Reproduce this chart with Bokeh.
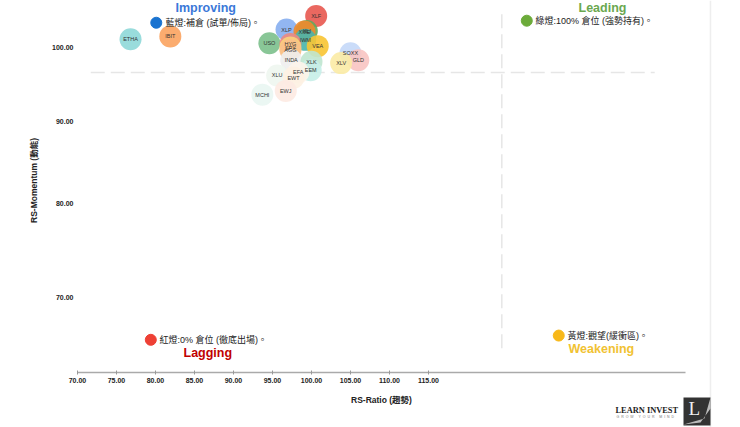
from bokeh.core.properties import value
from bokeh.embed import file_html
from bokeh.models import BoxAnnotation, ColumnDataSource, FixedTicker, Label, PolyAnnotation, PrintfTickFormatter, Range1d
from bokeh.plotting import figure
from bokeh.resources import INLINE

tickers = ['ETHA', 'IBIT', 'USO', 'XLF', 'XLP', 'XLI', 'XME', 'IWM', 'VEA', 'HYG', 'SPY', 'AGG',
           'INDA', 'XLK', 'EEM', 'SOXX', 'GLD', 'XLV', 'XLU', 'EFA', 'EWT', 'MCHI', 'EWJ']
rs_ratio = [76.8, 81.9, 94.6, 100.6, 96.8, 99.4, 99.1, 99.2, 100.8, 97.3, 97.3, 97.3,
            97.4, 100.0, 99.9, 105.0, 106.0, 103.8, 95.6, 98.3, 97.7, 93.7, 96.7]
rs_momentum = [101.2, 101.6, 100.6, 104.6, 102.6, 102.4, 102.3, 101.1, 100.2, 100.5, 100.0, 99.6,
               98.2, 98.0, 96.8, 99.2, 98.2, 97.8, 96.1, 96.5, 95.8, 93.5, 94.0]
colors = ['#8ed8d8', '#fba35f', '#7cc08c', '#e8584f', '#86aef0', '#63a85c', '#f08a2c', '#49b5ac',
          '#f8c433', '#ec8a80', '#f9d37a', '#f9c08a',
          '#eeeeee', '#bfe6cf', '#c6eee8', '#c4d8f8', '#f8c4c2', '#fbeba5', '#eef6f0', '#fdf4ea',
          '#fdf1e2', '#e9f6f2', '#fdeae2']

x_ticks = [70, 75, 80, 85, 90, 95, 100, 105, 110, 115]
y_ticks = [70, 80, 90, 100]

center_x = 124.4
center_y = 96.5

dot_x = [80.1, 127.6, 79.4, 131.7]
dot_y = [103.6, 103.9, 65.9, 66.3]
dot_colors = ['#1a73d0', '#6cab3a', '#ee4035', '#f8b818']

FONT = 'Liberation Sans, Noto Sans CJK TC'
W, H = 740, 427
NB = '\u00a0'

p = figure(width=W, height=H, output_backend='svg', toolbar_location=None,
           x_range=Range1d(60.13, 155.0), y_range=Range1d(58.15, 106.94), y_axis_type='log',
           x_axis_label='RS-Ratio (趨勢)', y_axis_label='RS-Momentum (動能)',
           min_border_left=0, min_border_right=0, min_border_top=0, min_border_bottom=0)
p.outline_line_color = None
p.grid.visible = False

p.xaxis.ticker = FixedTicker(ticks=x_ticks)
p.yaxis.ticker = FixedTicker(ticks=y_ticks)
p.xaxis.formatter = PrintfTickFormatter(format='%.2f')
p.yaxis.formatter = PrintfTickFormatter(format='%.2f')
p.xaxis.fixed_location = 62.87
p.yaxis.fixed_location = 70
p.xaxis.bounds = (70, 148)
p.yaxis.bounds = (64.0, 106.9)
p.axis.minor_tick_line_color = None
p.axis.major_label_text_font = FONT
p.axis.major_label_text_font_size = '7px'
p.axis.major_label_text_font_style = 'bold'
p.axis.major_label_text_color = '#222222'
p.axis.axis_label_text_font = FONT
p.axis.axis_label_text_font_size = '8.5px'
p.axis.axis_label_text_font_style = 'bold'
p.axis.axis_label_text_color = '#222222'
p.xaxis.axis_line_color = '#aaaaaa'
p.xaxis.axis_line_width = 1.5
p.xaxis.major_tick_line_color = '#999999'
p.xaxis.major_tick_in = 2
p.xaxis.major_tick_out = 2
p.xaxis.major_label_standoff = 3
p.xaxis.axis_label_standoff = 9
p.yaxis.axis_line_color = None
p.yaxis.major_tick_line_color = None
p.yaxis.major_tick_in = 0
p.yaxis.major_tick_out = 0
p.yaxis.major_label_standoff = 4
p.yaxis.axis_label_standoff = 10

# pale edge of the original page
p.segment([151.15], [58.15], [151.15], [106.94], line_color='#eeeeee', line_width=1.5)

# dashed quadrant lines
h = p.segment([71.7], [center_y], [144], [center_y], line_color='#e6e6e6', line_width=1.5)
v = p.segment([center_x], [65.1], [center_x], [105.4], line_color='#e6e6e6', line_width=1.5)
h.glyph.line_dash = [14, 6]
v.glyph.line_dash = [14, 6]

src = ColumnDataSource(dict(x=rs_ratio, y=rs_momentum, name=tickers, color=colors))
p.scatter('x', 'y', source=src, size=22, fill_color='color', fill_alpha=0.9, line_color=None)
p.text('x', 'y', text='name', source=src, text_font=value('Liberation Sans'), text_font_size='5.5px',
       text_color='#333333', text_align='center', text_baseline='middle')

# traffic light dots
p.scatter(dot_x, dot_y, size=11, color=dot_colors)


def note(text, x, y, size, color, font=FONT, style='normal'):
    p.add_layout(Label(x=x, y=H - y, x_units='screen', y_units='screen', text=text, text_font=font,
                       text_font_size=size, text_font_style=style, text_color=color,
                       text_baseline='middle'))


note('Improving', 175, 7, '12.5px', '#3b78d8', style='bold')
note('Leading', 578, 7, '12.5px', '#6aa84f', style='bold')
note('Lagging', 183, 352, '12.5px', '#c00000', style='bold')
note('Weakening', 568, 348, '12.5px', '#f1c232', style='bold')
note('藍燈:補倉 (試單/佈局)。', 165, 22, '9px', '#222222')
note('綠燈:100% 倉位 (強勢持有)。', 535, 20, '9px', '#222222')
note('紅燈:0% 倉位 (徹底出場)。', 159, 339, '9px', '#222222')
note('黃燈:觀望(緩衝區)。', 567, 335, '9px', '#222222')

# logo
p.add_layout(BoxAnnotation(left=683, right=710, top=H - 397, bottom=H - 425, left_units='screen',
                           right_units='screen', top_units='screen', bottom_units='screen',
                           fill_color='#333333', fill_alpha=1, line_color=None))
p.add_layout(PolyAnnotation(xs=[683, 704, 710, 710, 700], ys=[H - 424, H - 418, H - 397, H - 408, H - 422],
                            xs_units='screen', ys_units='screen',
                            fill_color='#dddddd', fill_alpha=0.8, line_color=None))
note('LEARN INVEST', 615, 410, '8.4px', '#222222', font='Liberation Serif', style='bold')
note((NB * 5).join((NB * 2).join(w) for w in ['GROW', 'YOUR', 'MIND']), 616, 416, '3.5px', '#777777',
     font='Liberation Sans')
note('L', 688, 408, '19px', '#f0f0f0', font='Liberation Serif')

open('out.html', 'w').write(file_html(p, INLINE))
